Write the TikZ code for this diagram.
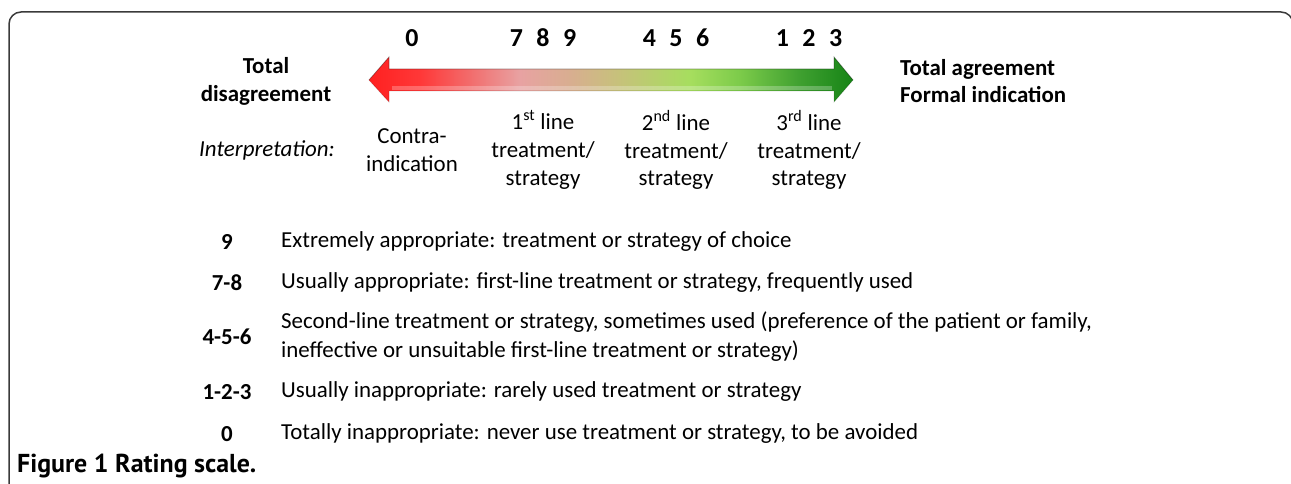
\documentclass[tikz,border=0pt]{standalone}
\usepackage{fontspec}
\setmainfont{Carlito}
\newfontfamily\capfont{PT Sans}
\definecolor{frameline}{HTML}{3A3A3A}
\definecolor{sa}{HTML}{FF2020}
\definecolor{sb}{HTML}{FF3838}
\definecolor{sc}{HTML}{F26C6C}
\definecolor{sd}{HTML}{E8A2A2}
\definecolor{se}{HTML}{D8AE90}
\definecolor{sf}{HTML}{C6C27A}
\definecolor{sg}{HTML}{A6DE5E}
\definecolor{sh}{HTML}{7CCB4A}
\definecolor{si}{HTML}{3FA030}
\definecolor{sj}{HTML}{168416}
\pgfdeclarehorizontalshading{ratebar}{100bp}{%
  color(0bp)=(sa);
  color(25bp)=(sa);
  color(30.3bp)=(sb);
  color(35.4bp)=(sc);
  color(40.6bp)=(sd);
  color(45.8bp)=(se);
  color(50.9bp)=(sf);
  color(58.2bp)=(sg);
  color(63.3bp)=(sh);
  color(69.5bp)=(si);
  color(75bp)=(sj);
  color(100bp)=(sj)}
\tikzset{
  num/.style={font=\bfseries\fontsize{26}{28}\selectfont, inner sep=0pt},
  side/.style={font=\bfseries\fontsize{23}{28}\selectfont, align=center, inner sep=0pt},
  interp/.style={font=\fontsize{23}{28}\selectfont, align=center, inner sep=0pt},
  lab/.style={font=\bfseries\fontsize{23}{26}\selectfont, inner sep=0pt},
  desc/.style={font=\fontsize{23}{29}\selectfont, anchor=west, align=left, inner sep=0pt},
}
\begin{document}
\begin{tikzpicture}[x=1bp,y=-1bp]
\useasboundingbox (0,0) rectangle (1291,484);
\clip (0,0) rectangle (1291,484);
% frame
\draw[rounded corners=12bp, line width=1.5bp, draw=frameline]
  (9,520) -- (9,12) -- (1293,12) -- (1293,520);
% arrow
\shade[shading=ratebar]
  (369,80) -- (389,57) -- (389,69) -- (834,69) -- (834,57) -- (853,80)
  -- (834,102) -- (834,91) -- (389,91) -- (389,102) -- cycle;
\fill[white, opacity=0.25] (392,86) rectangle (832,90);
\draw[black, opacity=0.35, line width=0.8bp]
  (369,80) -- (389,57) -- (389,69) -- (834,69) -- (834,57) -- (853,80);
\draw[black, opacity=0.15, line width=0.8bp]
  (853,80) -- (834,102) -- (834,91) -- (389,91) -- (389,102) -- (369,80);
% numbers
\node[num] (n0) at (412,38) {0};
\node[num] (n789) at (543,38) {7\hspace{0.52em}8\hspace{0.52em}9};
\node[num] (n456) at (676,38) {4\hspace{0.52em}5\hspace{0.52em}6};
\node[num] (n123) at (809,38) {1\hspace{0.52em}2\hspace{0.52em}3};
% sides
\node[side] (dis) at (266,81) {Total\\disagreement};
\node[side, anchor=west, align=left] (agr) at (900,81) {Total agreement\\Formal indication};
% interpretation
\node[interp, anchor=east, font=\itshape\fontsize{23}{28}\selectfont] (int) at (335,150) {Interpretation:};
\node[interp] (i0) at (412,150) {Contra-\\indication};
\node[interp] (i1) at (543,150) {1\textsuperscript{st} line\\treatment/\\strategy};
\node[interp] (i2) at (676,150) {2\textsuperscript{nd} line\\treatment/\\strategy};
\node[interp] (i3) at (809,150) {3\textsuperscript{rd} line\\treatment/\\strategy};
% list
\node[lab] (l9) at (227,242) {9};
\node[desc] (d9) at (281,242) {Extremely appropriate: treatment or strategy of choice};
\node[lab] (l78) at (227,283) {7-8};
\node[desc] (d78) at (281,283) {Usually appropriate: first-line treatment or strategy, frequently used};
\node[lab] (l456) at (227,337) {4-5-6};
\node[desc] (d456) at (281,337) {Second-line treatment or strategy, sometimes used (preference of the patient or family,\\ineffective or unsuitable first-line treatment or strategy)};
\node[lab] (l123) at (227,392) {1-2-3};
\node[desc] (d123) at (281,392) {Usually inappropriate: rarely used treatment or strategy};
\node[lab] (l0) at (227,434) {0};
\node[desc] (d0) at (281,434) {Totally inappropriate: never use treatment or strategy, to be avoided};
% caption
\node[anchor=west, inner sep=0pt, font=\capfont\bfseries\fontsize{26}{28}\selectfont] (cap) at (17,466) {Figure 1 Rating scale.};
\end{tikzpicture}
\end{document}
